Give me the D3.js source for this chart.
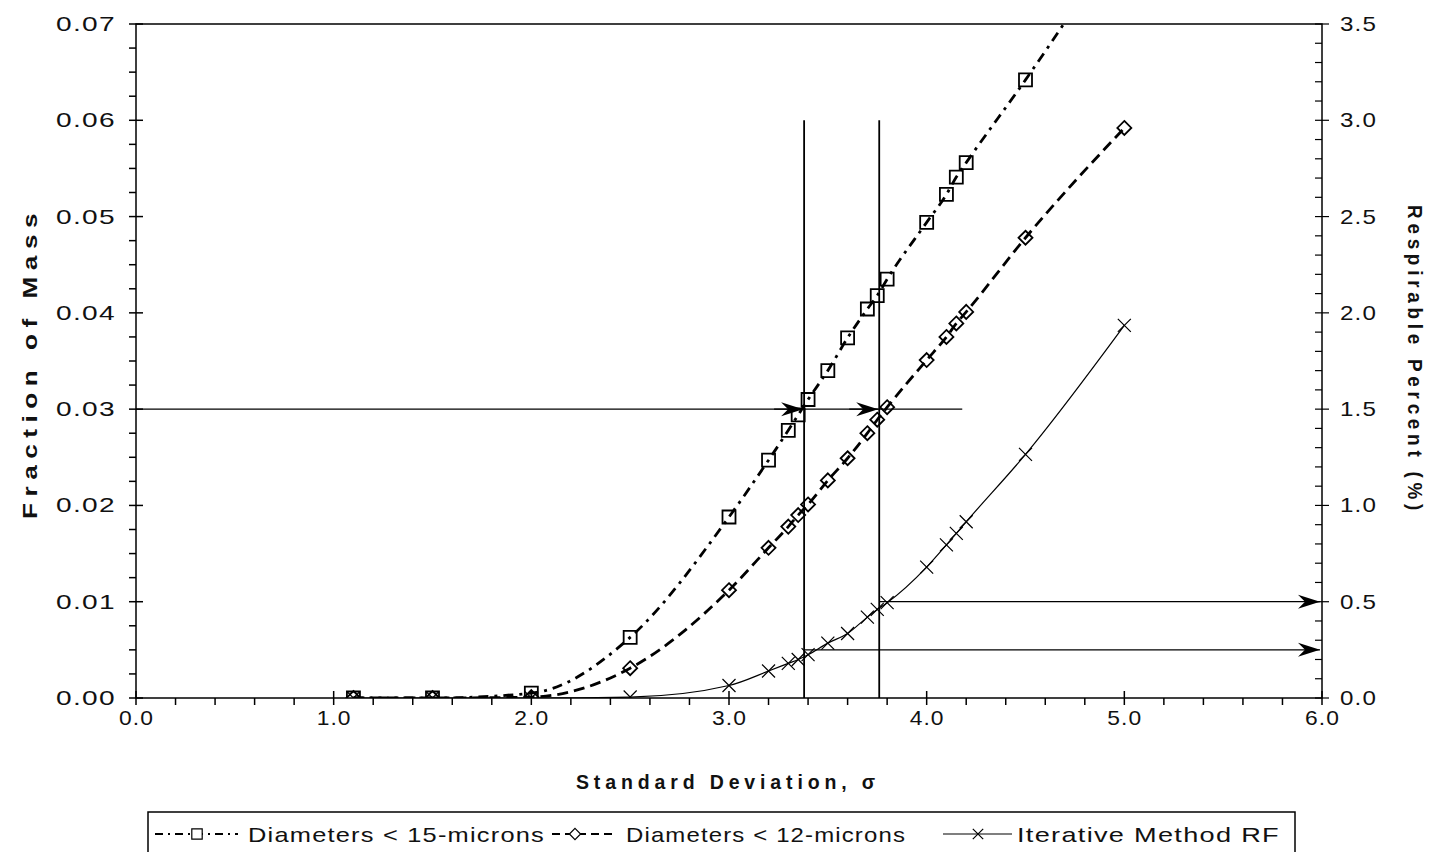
<!DOCTYPE html>
<html>
<head>
<meta charset="utf-8">
<script src="https://cdn.jsdelivr.net/npm/d3@7"></script>
<style>
	body { margin: 0; background: #fff; }
	svg { display: block; font-family: "Liberation Sans", Arial, sans-serif; }
	.tick-label { font-size: 21px; fill: #111; letter-spacing: 1px; }
	.axis-title { font-size: 20px; font-weight: bold; fill: #111; letter-spacing: 5px; }
	.legend-text { font-size: 21px; fill: #111; letter-spacing: 1px; }
</style>
</head>
<body>
<svg id="chart"></svg>
<script>
const width = 1431, height = 852;
const plotLeft = 136, plotRight = 1322, plotTop = 24, plotBottom = 698;

// standard deviation values shared by all series
const sigma = [1.1, 1.5, 2.0, 2.5, 3.0, 3.2, 3.3, 3.35, 3.4, 3.5, 3.6, 3.7, 3.75, 3.8, 4.0, 4.1, 4.15, 4.2, 4.5, 5.0];
const dia15 = [0, 0, 0.0005, 0.0063, 0.0188, 0.0247, 0.0278, 0.0294, 0.031, 0.034, 0.0374, 0.0404, 0.0418, 0.0435, 0.0494, 0.0523, 0.0541, 0.0556, 0.0642, 0.0795];
const dia12 = [0, 0, 0.0001, 0.0031, 0.0112, 0.0156, 0.0178, 0.019, 0.0201, 0.0226, 0.0249, 0.0275, 0.0289, 0.0302, 0.0351, 0.0375, 0.0389, 0.0401, 0.0478, 0.0592];
const iterRF = [0, 0, 0, 0.0001, 0.0013, 0.0028, 0.0036, 0.004, 0.0045, 0.0057, 0.0067, 0.0084, 0.0092, 0.0099, 0.0136, 0.0159, 0.0171, 0.0183, 0.0253, 0.0387];

const xTicks = [0, 1, 2, 3, 4, 5, 6];
const yTicks = [0, 0.01, 0.02, 0.03, 0.04, 0.05, 0.06, 0.07];
const rightTicks = [0, 0.5, 1.0, 1.5, 2.0, 2.5, 3.0, 3.5];

// annotation guides
const guideSigma = [3.38, 3.76];
const guideFraction = 0.03;
const guideTop = 0.06;
const guideEnd = 4.18;
const respPercent = [0.25, 0.5];

const legendNames = ['Diameters < 15-microns', 'Diameters < 12-microns', 'Iterative Method RF'];

const xScale = d3.scaleLinear().domain([0, 6]).range([plotLeft, plotRight]);
const yScale = d3.scaleLinear().domain([0, 0.07]).range([plotBottom, plotTop]);
const yScaleRight = d3.scaleLinear().domain([0, 3.5]).range([plotBottom, plotTop]);

const svg = d3.select('#chart').attr('width', width).attr('height', height);

// stretch a label to the width it takes in the scanned original
const stretch = (sel, len) => sel.attr('textLength', len).attr('lengthAdjust', 'spacingAndGlyphs');

const defs = svg.append('defs');
defs.append('marker')
	.attr('id', 'arrow')
	.attr('viewBox', '-24 -8 26 16')
	.attr('refX', 0).attr('refY', 0)
	.attr('markerWidth', 26).attr('markerHeight', 16)
	.attr('markerUnits', 'userSpaceOnUse')
	.attr('orient', 'auto')
	.append('path')
	.attr('d', 'M0,0 L-22,-7 L-15,0 L-22,7 Z')
	.attr('fill', '#000');

defs.append('clipPath').attr('id', 'plotclip')
	.append('rect').attr('x', plotLeft).attr('y', plotTop)
	.attr('width', plotRight - plotLeft).attr('height', plotBottom - plotTop);

// frame
svg.append('rect')
	.attr('x', plotLeft).attr('y', plotTop)
	.attr('width', plotRight - plotLeft).attr('height', plotBottom - plotTop)
	.attr('fill', 'none').attr('stroke', '#000').attr('stroke-width', 1.5);

// x axis ticks
const xMinor = d3.range(0, 6.001, 0.2);
svg.append('g').selectAll('line')
	.data(xMinor)
	.enter().append('line')
	.attr('x1', d => xScale(d)).attr('x2', d => xScale(d))
	.attr('y1', d => Math.abs(d - Math.round(d)) < 1e-6 ? plotBottom - 7 : plotBottom)
	.attr('y2', plotBottom + 7)
	.attr('stroke', '#000').attr('stroke-width', 1.5);

svg.append('g').selectAll('text')
	.data(xTicks)
	.enter().append('text')
	.attr('class', 'tick-label')
	.attr('x', d => xScale(d) - 17).attr('y', plotBottom + 27)
	.text(d => d3.format('.1f')(d))
	.call(stretch, 35);

// left axis ticks
const yMinor = d3.range(0, 0.07001, 0.0025);
svg.append('g').selectAll('line')
	.data(yMinor)
	.enter().append('line')
	.attr('x1', plotLeft - 7)
	.attr('x2', d => Math.abs(d / 0.01 - Math.round(d / 0.01)) < 1e-6 ? plotLeft + 7 : plotLeft)
	.attr('y1', d => yScale(d)).attr('y2', d => yScale(d))
	.attr('stroke', '#000').attr('stroke-width', 1.5);

svg.append('g').selectAll('text')
	.data(yTicks)
	.enter().append('text')
	.attr('class', 'tick-label')
	.attr('x', plotLeft - 80).attr('y', d => yScale(d) + 7)
	.text(d => d3.format('.2f')(d))
	.call(stretch, 60);

// right axis ticks
const rMinor = d3.range(0, 3.5001, 0.1);
svg.append('g').selectAll('line')
	.data(rMinor)
	.enter().append('line')
	.attr('x1', plotRight - 7)
	.attr('x2', d => Math.abs(d / 0.5 - Math.round(d / 0.5)) < 1e-6 ? plotRight + 7 : plotRight)
	.attr('y1', d => yScaleRight(d)).attr('y2', d => yScaleRight(d))
	.attr('stroke', '#000').attr('stroke-width', 1.2);

svg.append('g').selectAll('text')
	.data(rightTicks)
	.enter().append('text')
	.attr('class', 'tick-label')
	.attr('x', plotRight + 18).attr('y', d => yScaleRight(d) + 7)
	.text(d => d3.format('.1f')(d))
	.call(stretch, 37);

// axis titles
svg.append('text')
	.attr('class', 'axis-title')
	.attr('transform', `translate(37,${519}) rotate(-90)`)
	.text('Fraction of Mass')
	.call(stretch, 312);

svg.append('text')
	.attr('class', 'axis-title')
	.attr('transform', `translate(1408,${205}) rotate(90)`)
	.text('Respirable Percent (%)')
	.call(stretch, 310);

svg.append('text')
	.attr('class', 'axis-title')
	.attr('x', 576).attr('y', plotBottom + 91)
	.text('Standard Deviation, σ')
	.call(stretch, 304);

// guide lines
const guides = svg.append('g').attr('stroke', '#000').attr('stroke-width', 1.3);
guides.append('line')
	.attr('x1', xScale(0)).attr('x2', xScale(guideEnd))
	.attr('y1', yScale(guideFraction)).attr('y2', yScale(guideFraction));
guides.selectAll('.arrow-in')
	.data(guideSigma)
	.enter().append('line')
	.attr('x1', d => xScale(d) - 30).attr('x2', d => xScale(d) - 1)
	.attr('y1', yScale(guideFraction)).attr('y2', yScale(guideFraction))
	.attr('marker-end', 'url(#arrow)');
guides.selectAll('.vert')
	.data(guideSigma)
	.enter().append('line')
	.attr('x1', d => xScale(d)).attr('x2', d => xScale(d))
	.attr('y1', yScale(guideTop)).attr('y2', yScale(0))
	.attr('stroke-width', 1.8);
guides.selectAll('.arrow-out')
	.data(guideSigma)
	.enter().append('line')
	.attr('x1', d => xScale(d))
	.attr('x2', plotRight - 2)
	.attr('y1', (d, i) => yScaleRight(respPercent[i]))
	.attr('y2', (d, i) => yScaleRight(respPercent[i]))
	.attr('marker-end', 'url(#arrow)');

// series
const series = [
	{ values: dia15, dash: '10,6,3,6', width: 2.8, marker: 'square' },
	{ values: dia12, dash: '11,6', width: 2.8, marker: 'diamond' },
	{ values: iterRF, dash: null, width: 1.2, marker: 'cross' }
];

const line = d3.line()
	.x(d => xScale(d[0]))
	.y(d => yScale(d[1]))
	.curve(d3.curveMonotoneX);

const markerPath = (type) => {
	if (type === 'square') return 'M-6.5,-6.5 H6.5 V6.5 H-6.5 Z';
	if (type === 'diamond') return 'M0,-7 L7,0 L0,7 L-7,0 Z';
	return 'M-6.5,-6.5 L6.5,6.5 M-6.5,6.5 L6.5,-6.5';
};

const plot = svg.append('g').attr('clip-path', 'url(#plotclip)');

series.forEach(s => {
	const pts = sigma.map((x, i) => [x, s.values[i]]);
	plot.append('path')
		.datum(pts)
		.attr('d', line)
		.attr('fill', 'none')
		.attr('stroke', '#000')
		.attr('stroke-width', s.width)
		.attr('stroke-dasharray', s.dash);
	plot.selectAll(null)
		.data(pts.filter(p => p[1] <= 0.07))
		.enter().append('path')
		.attr('transform', d => `translate(${xScale(d[0])},${yScale(d[1])})`)
		.attr('d', markerPath(s.marker))
		.attr('fill', 'none')
		.attr('stroke', '#000')
		.attr('stroke-width', s.marker === 'cross' ? 1.2 : 1.8);
});

// legend
const legendTop = 812;
svg.append('rect')
	.attr('x', 148).attr('y', legendTop)
	.attr('width', 1147).attr('height', 60)
	.attr('fill', '#fff').attr('stroke', '#000').attr('stroke-width', 1.5);

const legendItems = [
	{ x1: 155, x2: 238, mx: 197, tx: 248, len: 297 },
	{ x1: 552, x2: 612, mx: 575, tx: 626, len: 280 },
	{ x1: 943, x2: 1012, mx: 978, tx: 1017, len: 263 }
];
const ly = legendTop + 22;
legendItems.forEach((item, i) => {
	const s = series[i];
	svg.append('line')
		.attr('x1', item.x1).attr('x2', item.x2)
		.attr('y1', ly).attr('y2', ly)
		.attr('stroke', '#000')
		.attr('stroke-width', s.dash ? 1.8 : 1.2)
		.attr('stroke-dasharray', s.dash ? (i === 0 ? '8,5,2,5' : '8,5') : null);
	svg.append('path')
		.attr('transform', `translate(${item.mx},${ly}) scale(0.8)`)
		.attr('d', markerPath(s.marker))
		.attr('fill', '#fff')
		.attr('stroke', '#000')
		.attr('stroke-width', 1.5);
	svg.append('text')
		.attr('class', 'legend-text')
		.attr('x', item.tx).attr('y', ly + 8)
		.text(legendNames[i])
		.call(stretch, item.len);
});
</script>
</body>
</html>
